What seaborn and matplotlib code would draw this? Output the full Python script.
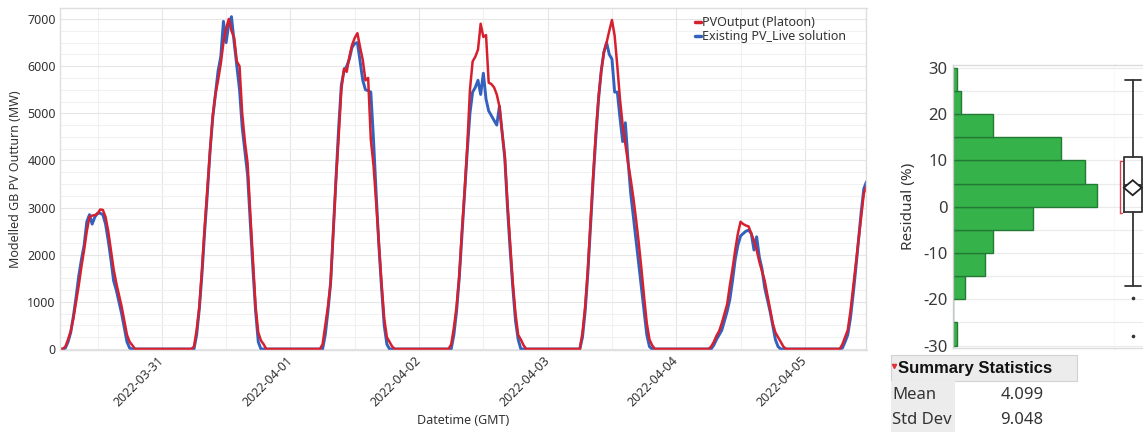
import numpy as np
import pandas as pd
import matplotlib
matplotlib.use("Agg")
import matplotlib.pyplot as plt
import matplotlib.dates as mdates
from matplotlib.ticker import MultipleLocator
from matplotlib.patches import Rectangle
from matplotlib.lines import Line2D
import seaborn as sns

# ---------------- data ----------------
start_time = "2022-03-30 05:00"
slots_per_day = 48  # half-hourly, each day list starts at 05:00

# PVOutput (Platoon) daylight values (MW), half-hourly from 05:00
pvo_d1 = [0, 0, 50, 200, 380, 650, 1000, 1350, 1750, 2100, 2500, 2800, 2830, 2840, 2870, 2960,
          2950, 2800, 2500, 2100, 1700, 1400, 1150, 900, 600, 300, 150, 80, 0]
pvo_d2 = [0, 0, 50, 400, 900, 1700, 2600, 3400, 4200, 4950, 5400, 5700, 6050, 6500, 6800, 7000,
          6750, 6600, 6100, 6000, 5000, 4400, 3950, 2900, 1900, 900, 350, 180, 100, 0]
pvo_d3 = [0, 0, 100, 500, 900, 1400, 2500, 3600, 4500, 5500, 5950, 5880, 6200, 6450, 6600, 6700,
          6400, 6130, 5700, 5750, 4450, 3900, 3100, 2250, 1400, 650, 250, 150, 50, 0]
pvo_d4 = [0, 0, 100, 450, 900, 1550, 2500, 3350, 4300, 5500, 6100, 6200, 6350, 6900, 6620, 6660,
          5650, 5620, 5550, 5400, 5150, 4600, 4100, 3100, 2250, 1400, 750, 300, 200, 80, 0]
pvo_d5 = [0, 0, 0, 350, 900, 1700, 2700, 3700, 4600, 5350, 5900, 6300, 6500, 6750, 6980, 6650,
          6000, 5300, 4750, 4350, 3950, 3600, 3200, 2750, 2250, 1700, 1100, 550, 200, 80, 0]
pvo_d6 = [0, 0, 0, 50, 150, 280, 380, 550, 750, 950, 1350, 1700, 2100, 2450, 2700, 2650,
          2620, 2600, 2450, 2300, 2100, 1850, 1650, 1450, 1150, 850, 550, 350, 250, 150, 50, 0]
pvo_d7 = [0, 0, 0, 0, 100, 250, 400, 800, 1300, 1800, 2300, 2800, 3300, 3450]

# Existing PV_Live solution daylight values (MW)
pvl_d1 = [0, 0, 20, 150, 350, 700, 1100, 1550, 1900, 2200, 2700, 2850, 2650, 2800, 2880, 2880,
          2850, 2650, 2300, 1900, 1450, 1250, 1000, 750, 450, 150, 20, 0]
pvl_d2 = [0, 0, 0, 300, 850, 1600, 2500, 3300, 4200, 4900, 5400, 5900, 6200, 6950, 6500, 6900,
          7050, 6500, 6000, 5500, 4700, 4200, 3700, 2700, 1700, 800, 150, 0]
pvl_d3 = [0, 0, 0, 300, 800, 1400, 2500, 3600, 4700, 5600, 5900, 6000, 6150, 6400, 6480, 6500,
          6100, 5700, 5500, 5480, 5450, 4450, 3300, 2200, 1300, 500, 100, 0]
pvl_d4 = [0, 0, 0, 300, 800, 1500, 2400, 3300, 4200, 5000, 5450, 5550, 5700, 5400, 5850, 5300,
          5050, 4950, 4850, 4750, 5150, 4600, 4050, 3000, 2100, 1300, 600, 200, 0]
pvl_d5 = [0, 0, 0, 250, 800, 1600, 2600, 3600, 4500, 5300, 5900, 6300, 6500, 6250, 6150, 5450,
          5450, 4900, 4400, 4800, 4000, 3300, 2800, 2300, 1800, 1300, 800, 300, 50, 0]
pvl_d6 = [0, 0, 0, 0, 80, 200, 300, 400, 600, 800, 1050, 1450, 1900, 2200, 2400, 2450,
          2500, 2520, 2450, 2100, 2380, 1950, 1700, 1300, 1050, 800, 500, 200, 50, 0]
pvl_d7 = [0, 0, 0, 0, 20, 150, 300, 650, 1150, 1700, 2300, 2900, 3400, 3550]

series_names = ["PVOutput (Platoon)", "Existing PV_Live solution"]

# residual histogram (counts per 5 % bin)
bin_edges = [-30, -25, -20, -15, -10, -5, 0, 5, 10, 15, 20, 25, 30]
bin_counts = [1, 0, 3, 8, 10, 20, 36, 33, 27, 10, 2, 1]

# box-plot summary
box_q1, box_med, box_q3 = -1.1, 4.7, 10.8
box_whislo, box_whishi = -17.1, 27.4
box_fliers = [-19.8, -27.9]
shortest_half = [-1.4, 9.9]
stat_mean = 4.099
stat_std = 9.048


def build(days):
    vals = []
    for i, d in enumerate(days):
        if i < len(days) - 1:
            vals += d + [0] * (slots_per_day - len(d))
        else:
            vals += d
    return np.array(vals, dtype=float)


pvo = build([pvo_d1, pvo_d2, pvo_d3, pvo_d4, pvo_d5, pvo_d6, pvo_d7])
pvl = build([pvl_d1, pvl_d2, pvl_d3, pvl_d4, pvl_d5, pvl_d6, pvl_d7])
times = pd.date_range(start_time, periods=len(pvo), freq="30min")

# ---------------- style ----------------
sns.set_theme(style="white")
plt.rcParams["font.family"] = ["Noto Sans", "DejaVu Sans"]
plt.rcParams["axes.unicode_minus"] = False

W, H = 1143, 432
fig = plt.figure(figsize=(W / 100, H / 100), dpi=100)

RED = "#d7202e"
BLUE = "#3461bd"
TXT = "#333333"
GRID = "#ebebeb"

# ---------------- main time-series ----------------
ax = fig.add_axes([60 / W, 82 / H, 806.5 / W, 342 / H])
sns.lineplot(x=times, y=pvl, ax=ax, color=BLUE, lw=2.1, label=series_names[1])
sns.lineplot(x=times, y=pvo, ax=ax, color=RED, lw=1.8, label=series_names[0])

ax.set_xlim(times[0], times[-1])
ax.set_ylim(-21, 7234)
ax.xaxis.set_major_locator(mdates.DayLocator())
ax.xaxis.set_major_formatter(mdates.DateFormatter("%Y-%m-%d"))
ax.xaxis.set_minor_locator(mdates.HourLocator(byhour=[12]))
ax.yaxis.set_major_locator(MultipleLocator(1000))
ax.yaxis.set_minor_locator(MultipleLocator(250))
ax.grid(True, which="major", color="#e6e6e6", lw=0.8)
ax.grid(True, which="minor", color="#f1f1f1", lw=0.8)
ax.set_axisbelow(True)
ax.tick_params(axis="both", which="both", length=0, labelsize=9, colors=TXT)
ax.tick_params(axis="y", pad=3)
for lab in ax.get_xticklabels():
    lab.set_rotation(45)
    lab.set_ha("right")
    lab.set_va("center")
    lab.set_rotation_mode("anchor")
ax.tick_params(axis="x", pad=6)
for s in ax.spines.values():
    s.set_color("#dedede")
    s.set_linewidth(1.0)
ax.set_xlabel("Datetime (GMT)", fontsize=9, color=TXT, labelpad=4)
ax.set_ylabel("Modelled GB PV Outturn (MW)", fontsize=9, color=TXT, labelpad=4)

h, l = ax.get_legend_handles_labels()
order = [l.index(series_names[0]), l.index(series_names[1])]
leg = ax.legend([h[i] for i in order], [l[i] for i in order], loc="upper right",
                frameon=False, fontsize=9, handlelength=0.5, handletextpad=0.1,
                labelspacing=0.1, borderaxespad=0.25, bbox_to_anchor=(0.985, 1.0))
for t in leg.get_texts():
    t.set_color(TXT)
for ln in leg.get_lines():
    ln.set_linewidth(2.5)

# ---------------- histogram ----------------
hb, ht = 347.7, 65
axh = fig.add_axes([953.3 / W, (H - hb) / H, 161.7 / W, (hb - ht) / H])
centers = [(a + b) / 2 for a, b in zip(bin_edges[:-1], bin_edges[1:])]
sns.histplot(y=centers, weights=bin_counts, bins=bin_edges, ax=axh,
             color="#36b24a", edgecolor="#237a35", alpha=1, linewidth=1.0)
axh.set_xlim(0, 40.4)
axh.set_ylim(-30.45, 30.6)
axh.set_xticks([])
axh.set_xlabel("")
axh.yaxis.set_major_locator(MultipleLocator(10))
axh.yaxis.set_minor_locator(MultipleLocator(5))
axh.grid(True, axis="y", which="both", color=GRID, lw=0.8)
axh.set_axisbelow(True)
axh.tick_params(axis="y", which="both", length=0, labelsize=12, colors="#3a3a3a", pad=4)
axh.set_ylabel("Residual (%)", fontsize=11, color=TXT, labelpad=5)
for name, s in axh.spines.items():
    s.set_color("#dcdcdc")
    s.set_linewidth(1.0)
axh.spines["left"].set_color("#c8c8c8")

# ---------------- box plot ----------------
axb = fig.add_axes([1115 / W, (H - hb) / H, 30 / W, (hb - ht) / H], sharey=axh)
axb.set_xlim(0, 1)
pos, wid = 0.59, 0.59
stats = [dict(med=box_med, q1=box_q1, q3=box_q3, whislo=box_whislo, whishi=box_whishi,
              fliers=box_fliers, label="")]
lp = dict(color="#333333", lw=1.3)
axb.bxp(stats, positions=[pos], widths=wid, capwidths=[wid * 0.9], patch_artist=False,
        boxprops=lp, whiskerprops=lp, capprops=lp, medianprops=lp,
        flierprops=dict(marker="o", markersize=1.6, markerfacecolor="#333333",
                        markeredgecolor="#333333", linestyle="none"),
        manage_ticks=False)
n_obs = sum(bin_counts)
ci = 2.2 * stat_std / np.sqrt(n_obs)
axb.fill([pos - wid / 2, pos, pos + wid / 2, pos],
         [stat_mean, stat_mean + ci, stat_mean, stat_mean - ci],
         facecolor="white", edgecolor="#222222", lw=1.3, zorder=4)
bx = pos - wid / 2 - 0.13
axb.plot([bx, bx], shortest_half, color="#e04050", lw=1.0)
axb.plot([bx, bx + 0.06], [shortest_half[0]] * 2, color="#e04050", lw=1.0)
axb.plot([bx, bx + 0.06], [shortest_half[1]] * 2, color="#e04050", lw=1.0)
axb.grid(True, axis="y", which="both", color=GRID, lw=0.8)
axb.set_axisbelow(True)
axb.set_xticks([])
axb.tick_params(axis="y", which="both", length=0, labelleft=False)
for name, s in axb.spines.items():
    s.set_color("#dcdcdc")
    s.set_linewidth(1.0)
axb.spines["left"].set_visible(False)
axb.spines["right"].set_visible(False)

# ---------------- summary statistics ----------------
def fx(x):
    return x / W


def fy(y):
    return (H - y) / H


fig.add_artist(Rectangle((fx(890.7), fy(380.7)), (1077.3 - 890.7) / W, 25.7 / H,
                         transform=fig.transFigure, facecolor="#ececec",
                         edgecolor="#d2d2d2", lw=0.8))
fig.add_artist(Rectangle((fx(890.7), fy(432)), (955 - 890.7) / W, 51 / H,
                         transform=fig.transFigure, facecolor="#ececec",
                         edgecolor="none"))
fig.add_artist(Line2D([fx(893.5)], [fy(366)], marker="v", color="#e0303a",
                      markersize=3, transform=fig.transFigure))
fig.text(fx(898), fy(368), "Summary Statistics", fontsize=12, fontweight="bold",
         family=["Liberation Sans", "DejaVu Sans"],
         color="#111111", va="center", ha="left")
fig.text(fx(892), fy(395), "Mean", fontsize=12, color=TXT, va="center", ha="left")
fig.text(fx(892), fy(420), "Std Dev", fontsize=12, color=TXT, va="center", ha="left")
fig.text(fx(1000.5), fy(395), f"{stat_mean:.3f}", fontsize=12, color=TXT, va="center", ha="left")
fig.text(fx(1000.5), fy(420), f"{stat_std:.3f}", fontsize=12, color=TXT, va="center", ha="left")

fig.savefig("out.png", dpi=100, facecolor="white")
